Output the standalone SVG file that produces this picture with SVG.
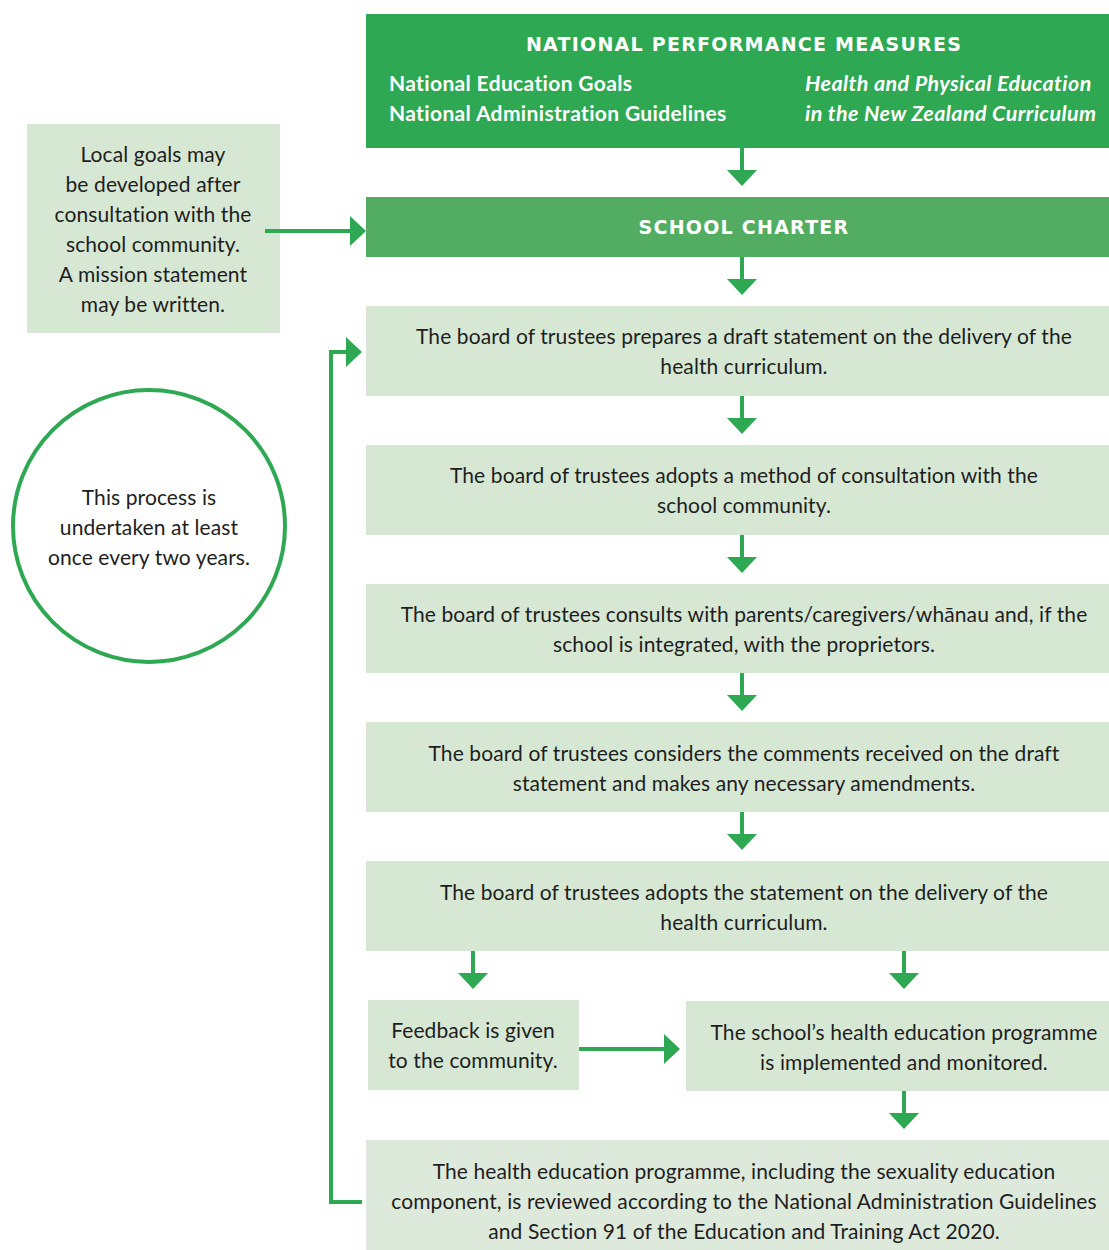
<svg xmlns="http://www.w3.org/2000/svg" width="1109" height="1250" viewBox="0 0 1109 1250">
  <defs>
    <style>
      .box { fill: #d6e7d4; }
      .txt { font-family: Lato, "Open Sans", sans-serif; font-size: 21px; letter-spacing: 0.1px; fill: #1e1e1e; text-anchor: middle; }
      .head { font-family: "DejaVu Sans", "Open Sans", sans-serif; font-weight: bold; font-size: 19px; fill: #ffffff; text-anchor: middle; letter-spacing: 1.25px; }
      .sub { font-family: Lato, sans-serif; font-weight: bold; font-size: 21px; letter-spacing: 0.35px; fill: #ffffff; }
      .subi { font-family: Lato, sans-serif; font-weight: bold; font-style: italic; font-size: 21.5px; letter-spacing: 0.4px; fill: #ffffff; }
      .conn { stroke: #2ea852; stroke-width: 4; fill: none; }
      .tip { fill: #2ea852; }
    </style>
    <!-- down-pointing arrow: shaft 0..22, head 22..38 -->
    <g id="down">
      <rect x="-2" y="0" width="4" height="23" class="tip"/>
      <polygon points="-15,22 15,22 0,38" class="tip"/>
    </g>
  </defs>

  <!-- national measures -->
  <g id="national">
    <rect x="366" y="14" width="743" height="134" fill="#2ea852"/>
    <text class="head" x="744" y="51">NATIONAL PERFORMANCE MEASURES</text>
    <text class="sub" x="389" y="91">National Education Goals</text>
    <text class="sub" x="389" y="121">National Administration Guidelines</text>
    <text class="subi" x="805" y="91">Health and Physical Education</text>
    <text class="subi" x="805" y="121">in the New Zealand Curriculum</text>
  </g>

  <!-- school charter -->
  <g id="charter">
    <rect x="366" y="197" width="743" height="60" fill="#52ad63"/>
    <text class="head" x="744" y="234">SCHOOL CHARTER</text>
  </g>

  <!-- local goals -->
  <g id="local">
    <rect x="27" y="124" width="253" height="209" class="box"/>
    <text class="txt" x="153" y="162">Local goals may</text>
    <text class="txt" x="153" y="192">be developed after</text>
    <text class="txt" x="153" y="222">consultation with the</text>
    <text class="txt" x="153" y="252">school community.</text>
    <text class="txt" x="153" y="282">A mission statement</text>
    <text class="txt" x="153" y="312">may be written.</text>
  </g>

  <!-- cycle note -->
  <g id="cycle">
    <circle cx="149" cy="526" r="136" fill="#ffffff" stroke="#2ea852" stroke-width="4"/>
    <text class="txt" x="149" y="505">This process is</text>
    <text class="txt" x="149" y="535">undertaken at least</text>
    <text class="txt" x="149" y="565">once every two years.</text>
  </g>

  <g id="step1">
    <rect x="366" y="306" width="743" height="90" class="box"/>
    <text class="txt" x="744" y="344">The board of trustees prepares a draft statement on the delivery of the</text>
    <text class="txt" x="744" y="374">health curriculum.</text>
  </g>
  <g id="step2">
    <rect x="366" y="445" width="743" height="90" class="box"/>
    <text class="txt" x="744" y="483">The board of trustees adopts a method of consultation with the</text>
    <text class="txt" x="744" y="513">school community.</text>
  </g>
  <g id="step3">
    <rect x="366" y="584" width="743" height="89" class="box"/>
    <text class="txt" x="744" y="622">The board of trustees consults with parents/caregivers/whānau and, if the</text>
    <text class="txt" x="744" y="652">school is integrated, with the proprietors.</text>
  </g>
  <g id="step4">
    <rect x="366" y="722" width="743" height="90" class="box"/>
    <text class="txt" x="744" y="761">The board of trustees considers the comments received on the draft</text>
    <text class="txt" x="744" y="791">statement and makes any necessary amendments.</text>
  </g>
  <g id="step5">
    <rect x="366" y="861" width="743" height="90" class="box"/>
    <text class="txt" x="744" y="900">The board of trustees adopts the statement on the delivery of the</text>
    <text class="txt" x="744" y="930">health curriculum.</text>
  </g>
  <g id="feedback">
    <rect x="368" y="1000" width="211" height="90" class="box"/>
    <text class="txt" x="473" y="1038">Feedback is given</text>
    <text class="txt" x="473" y="1068">to the community.</text>
  </g>
  <g id="implement">
    <rect x="686" y="1001" width="423" height="90" class="box"/>
    <text class="txt" x="904" y="1040">The school’s health education programme</text>
    <text class="txt" x="904" y="1070">is implemented and monitored.</text>
  </g>
  <g id="review">
    <rect x="366" y="1140" width="743" height="110" fill="#dde9da"/>
    <text class="txt" x="744" y="1179">The health education programme, including the sexuality education</text>
    <text class="txt" x="744" y="1209">component, is reviewed according to the National Administration Guidelines</text>
    <text class="txt" x="744" y="1239">and Section 91 of the Education and Training Act 2020.</text>
  </g>

  <!-- connectors -->
  <g id="connectors">
    <use href="#down" x="742" y="148"/>
    <use href="#down" x="742" y="257"/>
    <use href="#down" x="742" y="396"/>
    <use href="#down" x="742" y="535"/>
    <use href="#down" x="742" y="673"/>
    <use href="#down" x="742" y="812"/>
    <use href="#down" x="473" y="951"/>
    <use href="#down" x="904" y="951"/>
    <use href="#down" x="904" y="1091"/>
    <!-- local goals into charter -->
    <line x1="265" y1="231" x2="352" y2="231" class="conn"/>
    <polygon points="350,216 366,231 350,246" class="tip"/>
    <!-- feedback into implementation -->
    <line x1="579" y1="1049" x2="666" y2="1049" class="conn"/>
    <polygon points="664,1034 680,1049 664,1064" class="tip"/>
    <!-- review loops back to step 1 -->
    <polyline points="362,1202 331,1202 331,352 348,352" class="conn"/>
    <polygon points="346,337 362,352 346,367" class="tip"/>
  </g>
</svg>
